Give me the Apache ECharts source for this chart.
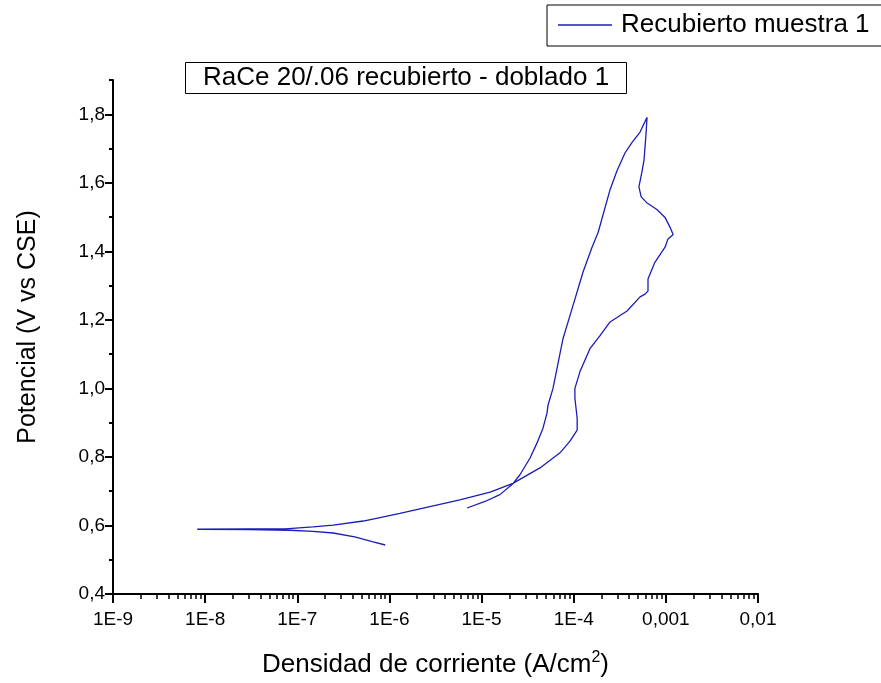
<!DOCTYPE html>
<html>
<head>
<meta charset="utf-8">
<script src="https://cdn.jsdelivr.net/npm/echarts@6/dist/echarts.min.js"></script>
<style>
  html, body { margin: 0; padding: 0; background: #fff; }
  #chart { width: 881px; height: 683px; }
</style>
</head>
<body>
<div id="chart"></div>
<script>
// Polarisation scan: current density (A/cm2) and potential (V vs CSE), in scan order
const current = [
  9.0e-7, 6.5e-7, 4.2e-7, 2.45e-7, 1.48e-7, 8.3e-8, 3.0e-8, 8.2e-9,
  3.0e-8, 7.4e-8, 1.48e-7, 2.45e-7, 5.2e-7, 7.9e-7, 1.3e-6, 2.75e-6, 5.8e-6,
  1.24e-5, 2.19e-5, 4.3e-5, 7.1e-5, 9.1e-5, 1.09e-4, 1.09e-4, 1.06e-4, 1.03e-4,
  1.03e-4, 1.17e-4, 1.50e-4, 1.93e-4, 2.48e-4, 3.79e-4, 5.25e-4, 5.95e-4, 6.40e-4,
  6.40e-4, 7.60e-4, 9.80e-4, 1.05e-3, 1.20e-3, 1.11e-3, 9.80e-4, 8.00e-4, 6.20e-4,
  5.40e-4, 5.10e-4, 5.50e-4, 5.80e-4, 6.10e-4, 6.25e-4,
  5.25e-4, 4.30e-4, 3.60e-4, 2.95e-4, 2.48e-4, 1.84e-4, 1.58e-4, 1.26e-4, 9.80e-5,
  7.65e-5, 5.96e-5, 5.26e-5, 5.13e-5, 4.64e-5, 4.00e-5, 3.36e-5, 2.61e-5, 2.19e-5,
  1.58e-5, 1.09e-5, 6.95e-6
];
const potential = [
  0.543, 0.553, 0.567, 0.578, 0.583, 0.586, 0.588, 0.589,
  0.590, 0.590, 0.596, 0.601, 0.613, 0.623, 0.635, 0.655, 0.675,
  0.697, 0.723, 0.768, 0.812, 0.846, 0.878, 0.913, 0.942, 0.971,
  1.000, 1.049, 1.116, 1.154, 1.194, 1.226, 1.267, 1.275, 1.284,
  1.319, 1.368, 1.412, 1.435, 1.449, 1.470, 1.499, 1.522, 1.542,
  1.559, 1.588, 1.632, 1.667, 1.745, 1.791,
  1.748, 1.718, 1.687, 1.635, 1.580, 1.455, 1.412, 1.339, 1.241,
  1.145, 1.000, 0.951, 0.928, 0.884, 0.841, 0.797, 0.748, 0.722,
  0.690, 0.670, 0.651
];

const xTickValues = [1e-9, 1e-8, 1e-7, 1e-6, 1e-5, 1e-4, 1e-3, 1e-2];
const xTickLabels = ['1E-9', '1E-8', '1E-7', '1E-6', '1E-5', '1E-4', '0,001', '0,01'];
const yTickValues = [0.4, 0.6, 0.8, 1.0, 1.2, 1.4, 1.6, 1.8];
const yMinorValues = [0.5, 0.7, 0.9, 1.1, 1.3, 1.5, 1.7, 1.9];

const seriesName = 'Recubierto muestra 1';
const chartTitle = 'RaCe 20/.06 recubierto - doblado 1';

// minor ticks of the log axis: 2..9 within each decade
const xMinorValues = [];
for (let d = -9; d < -2; d++) {
  for (let k = 2; k <= 9; k++) xMinorValues.push(k * Math.pow(10, d));
}

const FONT = '"Liberation Sans", Arial, sans-serif';
const LINE_COLOR = '#1c1cb8';
const data = current.map((c, i) => [c, potential[i]]);

const chart = echarts.init(document.getElementById('chart'), null, { renderer: 'canvas' });

const xLabelFor = v => {
  const idx = Math.round(Math.log10(v)) + 9;
  return xTickLabels[idx] !== undefined ? xTickLabels[idx] : '';
};

chart.setOption({
  animation: false,
  backgroundColor: '#fff',
  textStyle: { fontFamily: FONT },
  title: {
    text: chartTitle,
    left: 185,
    top: 62,
    padding: [3, 18, 3, 18],
    borderColor: '#000',
    borderWidth: 1,
    textStyle: { fontFamily: FONT, fontSize: 26, fontWeight: 'normal', color: '#000' }
  },
  legend: {
    left: 547,
    top: 5,
    padding: [7, 14, 8, 11],
    borderColor: '#000',
    borderWidth: 1,
    itemWidth: 54,
    itemHeight: 1.5,
    itemGap: 0,
    icon: 'rect',
    itemStyle: { color: LINE_COLOR },
    textStyle: { fontFamily: FONT, fontSize: 26, color: '#000', padding: [0, 0, 0, 4] },
    data: [seriesName]
  },
  grid: { left: 113, right: 123, top: 80, bottom: 86 },
  xAxis: [
    {
      type: 'log',
      logBase: 10,
      min: 1e-9,
      max: 1e-2,
      position: 'bottom',
      name: 'Densidad de corriente (A/cm{sup|2})',
      nameLocation: 'middle',
      nameGap: 56,
      nameTextStyle: {
        fontFamily: FONT, fontSize: 26, color: '#000',
        rich: { sup: { fontFamily: FONT, fontSize: 16, color: '#000', padding: [0, 0, 14, 0] } }
      },
      axisLine: { show: true, lineStyle: { color: '#000', width: 2 } },
      axisTick: { show: true, length: 9, lineStyle: { color: '#000', width: 2 }, customValues: xTickValues },
      axisLabel: {
        show: true, margin: 16, color: '#000', fontFamily: FONT, fontSize: 19,
        customValues: xTickValues, formatter: xLabelFor
      },
      minorTick: { show: false },
      splitLine: { show: false }
    },
    {
      type: 'log',
      logBase: 10,
      min: 1e-9,
      max: 1e-2,
      position: 'bottom',
      axisLine: { show: false },
      axisTick: { show: true, length: 5, lineStyle: { color: '#000', width: 1.5 }, customValues: xMinorValues },
      axisLabel: { show: false },
      splitLine: { show: false }
    }
  ],
  yAxis: [
    {
      type: 'value',
      min: 0.4,
      max: 1.9,
      interval: 0.2,
      position: 'left',
      name: 'Potencial (V vs CSE)',
      nameLocation: 'middle',
      nameGap: 72,
      nameTextStyle: { fontFamily: FONT, fontSize: 25, color: '#000', padding: [0, 0, 0, 20] },
      axisLine: { show: true, lineStyle: { color: '#000', width: 2 } },
      axisTick: { show: true, length: 8, lineStyle: { color: '#000', width: 2 }, customValues: yTickValues },
      axisLabel: {
        show: true, margin: 8, color: '#000', fontFamily: FONT, fontSize: 19,
        customValues: yTickValues,
        formatter: v => v.toFixed(1).replace('.', ',')
      },
      splitLine: { show: false }
    },
    {
      type: 'value',
      min: 0.4,
      max: 1.9,
      position: 'left',
      axisLine: { show: false },
      axisTick: { show: true, length: 4, lineStyle: { color: '#000', width: 2 }, customValues: yMinorValues },
      axisLabel: { show: false },
      splitLine: { show: false }
    }
  ],
  series: [
    {
      name: seriesName,
      type: 'line',
      xAxisIndex: 0,
      yAxisIndex: 0,
      data: data,
      symbol: 'none',
      showSymbol: false,
      smooth: false,
      lineStyle: { color: LINE_COLOR, width: 1.3 },
      itemStyle: { color: LINE_COLOR }
    }
  ]
});
</script>
</body>
</html>
